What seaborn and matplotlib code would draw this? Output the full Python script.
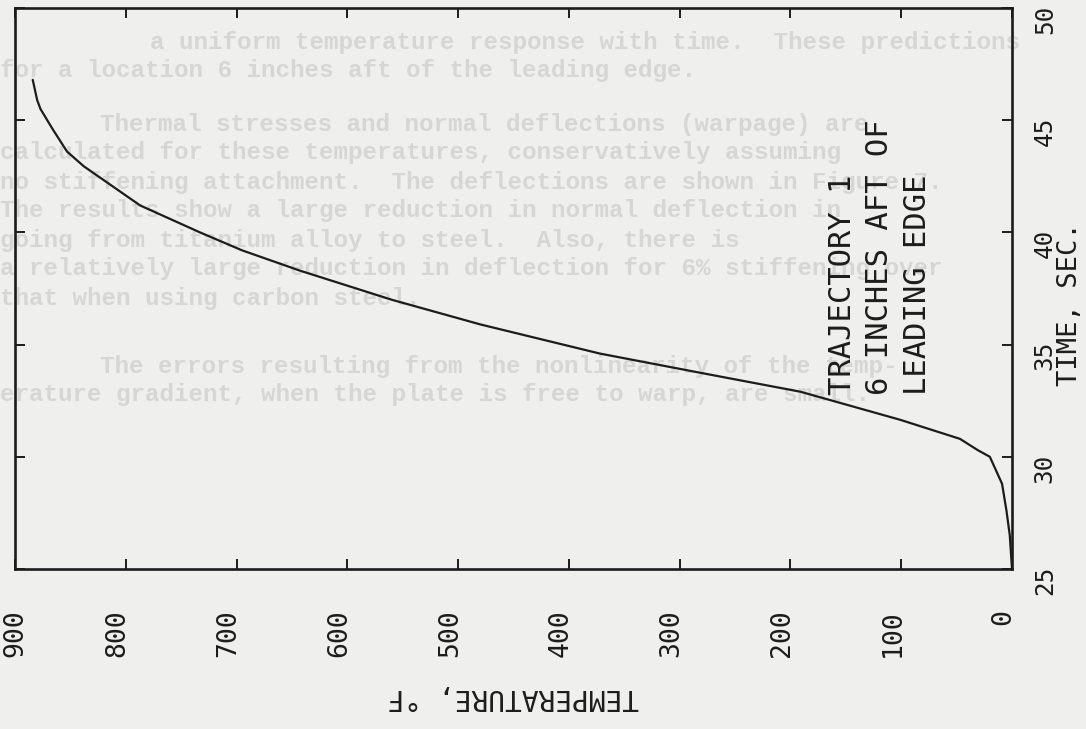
import matplotlib
matplotlib.use("Agg")
import matplotlib.pyplot as plt
from matplotlib.transforms import ScaledTranslation
import numpy as np
import pandas as pd
import seaborn as sns

# Skin temperature history, trajectory 1, 6 in. aft of the leading edge
time_s = [25.0, 26.5, 27.6, 28.8, 30.0, 30.3, 30.8, 31.65, 32.9, 33.75,
          34.6, 35.9, 37.0, 38.3, 39.2, 40.0, 41.2, 42.95, 43.6, 44.6,
          45.5, 45.9, 46.8]
temperature_f = [0, 2, 5, 9, 20, 31, 47, 101, 191, 282,
                 372, 480, 560, 643, 695, 733, 787, 838, 853, 866,
                 877, 880, 884]

temp_ticks = [0, 100, 200, 300, 400, 500, 600, 700, 800, 900]
time_ticks = [25, 30, 35, 40, 45, 50]

temp_label = "TEMPERATURE, °F"
time_label = "TIME, SEC."
note_lines = ["TRAJECTORY 1", "6 INCHES AFT OF", "LEADING EDGE"]

# typed text from the facing page, faintly visible through the sheet
page_lines = [
    (150, 42, "a uniform temperature response with time.  These predictions"),
    (0, 71, "for a location 6 inches aft of the leading edge."),
    (100, 124, "Thermal stresses and normal deflections (warpage) are"),
    (0, 153, "calculated for these temperatures, conservatively assuming"),
    (0, 182, "no stiffening attachment.  The deflections are shown in Figure 7."),
    (0, 211, "The results show a large reduction in normal deflection in"),
    (0, 240, "going from titanium alloy to steel.  Also, there is"),
    (0, 269, "a relatively large reduction in deflection for 6% stiffening over"),
    (0, 298, "that when using carbon steel."),
    (100, 366, "The errors resulting from the nonlinearity of the temp-"),
    (0, 395, "erature gradient, when the plate is free to warp, are small."),
]

PAPER = "#efefed"
INK = "#1c1c1c"
GHOST = "#d6d6d4"

sns.set_theme(style="ticks")
plt.rcParams["font.family"] = ["DejaVu Sans Mono", "DejaVu Sans"]

W, H = 1086, 729
fig = plt.figure(figsize=(W / 100, H / 100), dpi=100, facecolor=PAPER)

for x0, y0, s in page_lines:
    fig.text(x0 / W, 1 - y0 / H, s, ha="left", va="center",
             family="Liberation Mono", fontsize=17.5, fontweight="bold",
             color=GHOST, zorder=0)

ax = fig.add_axes([15 / W, (H - 569) / H, 997 / W, 561 / H])
ax.set_zorder(1)
ax.set_facecolor("none")

df = pd.DataFrame({"time": time_s, "temperature": temperature_f})
sns.lineplot(data=df, x="temperature", y="time", sort=False, estimator=None,
             color=INK, linewidth=1.6, ax=ax)

ax.set_xlim(900, 0)
ax.set_ylim(25, 50)
ax.set_xticks(temp_ticks)
ax.set_xticklabels([str(v) for v in temp_ticks])
ax.set_yticks(time_ticks)
ax.set_yticklabels([str(v) for v in time_ticks])
ax.set_xlabel("")
ax.set_ylabel("")

ax.tick_params(direction="in", length=7, width=1.4, colors=INK,
               top=True, right=True, left=True, bottom=True,
               labelleft=False, labelright=True)
ax.tick_params(axis="x", labelrotation=90, pad=29, labelsize=19)
ax.tick_params(axis="y", labelrotation=90, pad=15, labelsize=17.5)

# lettering sits slightly off its tick marks (the outermost label stays put)
shift_x = ScaledTranslation(-6 / 72, 0, fig.dpi_scale_trans)
shift_y = ScaledTranslation(0, -8 / 72, fig.dpi_scale_trans)
for value, lbl in zip(temp_ticks, ax.get_xticklabels()):
    if value != max(temp_ticks):
        lbl.set_transform(lbl.get_transform() + shift_x)
for lbl in ax.get_yticklabels():
    lbl.set_verticalalignment("center")
    lbl.set_transform(lbl.get_transform() + shift_y)

for sp in ax.spines.values():
    sp.set_linewidth(1.9)
    sp.set_color(INK)

ax.text(0.5, -0.228, temp_label, rotation=180, ha="center", va="center",
        fontsize=20, color=INK, transform=ax.transAxes)
ax.text(1.058, 0.472, time_label, rotation=90, ha="center", va="center",
        fontsize=19.5, color=INK, transform=ax.transAxes)
ax.text(0.815, 0.310, "\n".join(note_lines), rotation=90, ha="left",
        va="bottom", multialignment="left", linespacing=1.37, fontsize=22,
        color=INK, transform=ax.transAxes)

fig.savefig("out.png", dpi=100, facecolor=PAPER)
